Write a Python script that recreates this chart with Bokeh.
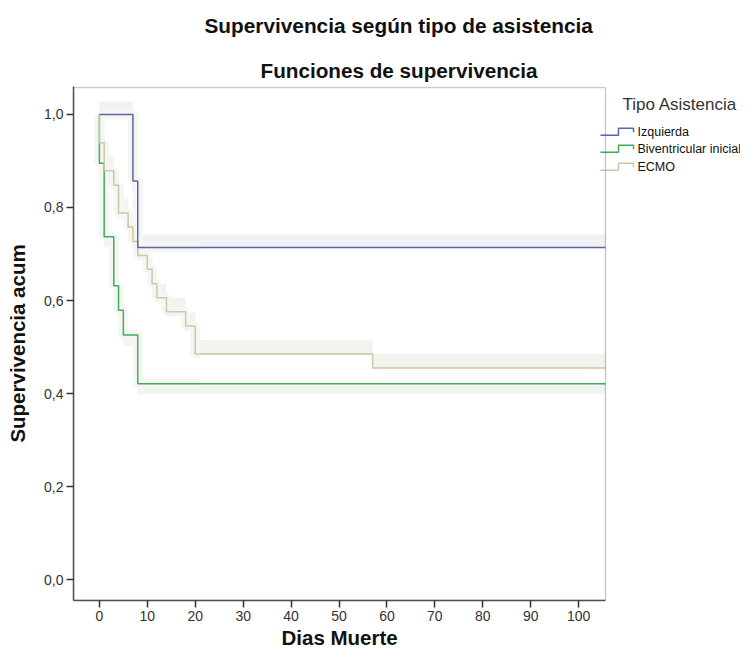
from bokeh.plotting import figure
from bokeh.models import Range1d, FixedTicker, CustomJSTickFormatter, Title, BoxAnnotation
from bokeh.core.properties import value
from bokeh.embed import file_html
from bokeh.resources import INLINE

# ---- data (Kaplan-Meier steps) ----
izq_dias = [0, 7, 8, 105.6]
izq_surv = [1.0, 0.857, 0.714, 0.714]

bi_dias = [0, 0, 1, 3, 4, 5, 8, 105.6]
bi_surv = [1.0, 0.895, 0.737, 0.632, 0.579, 0.526, 0.421, 0.421]

ecmo_dias = [0, 0, 1, 3, 4, 6, 7, 8, 10, 11, 12, 14, 18, 20, 57, 105.6]
ecmo_surv = [1.0, 0.939, 0.879, 0.848, 0.788, 0.758, 0.727, 0.697, 0.667,
             0.636, 0.606, 0.576, 0.545, 0.485, 0.455, 0.455]

grupos = ["Izquierda", "Biventricular inicial", "ECMO"]
x_ticks = [0, 10, 20, 30, 40, 50, 60, 70, 80, 90, 100]
y_ticks = [0.0, 0.2, 0.4, 0.6, 0.8, 1.0]

col_izq = "#5A64AA"
col_bi = "#3FAE58"
col_ecmo = "#CDC8A2"
FONT = "Liberation Sans"

# plot window (data) and its pixel box on the canvas
X0, X1 = -5.4, 105.6
Y0, Y1 = -0.045, 1.058
PL, PR, PT, PB = 73, 605, 85, 600          # frame of the chart area
W, H = 740, 648
sx_per = (PR - PL) / (X1 - X0)
sy_per = (PB - PT) / (Y1 - Y0)
X_END = X1 + (W - PR) / sx_per             # frame extended right for the legend


def X(px):
    return X0 + (px - PL) / sx_per


def Y(py):
    return Y1 - (py - PT) / sy_per


p = figure(width=W, height=H, output_backend="svg", toolbar_location=None,
           x_range=Range1d(X0, X_END), y_range=Range1d(Y0, Y1 + 1.0 / sy_per),
           min_border_left=PL, min_border_right=0, min_border_top=PT - 1,
           min_border_bottom=H - PB)
p.grid.visible = False
p.outline_line_color = None
p.background_fill_color = "white"
p.border_fill_color = "white"

# light bands beside the curves
p.varea_step(x=izq_dias, y1=izq_surv, y2=[v + 0.028 for v in izq_surv],
             step_mode="after", fill_color="#F2F2F4")
p.varea_step(x=ecmo_dias, y1=ecmo_surv, y2=[v + 0.03 for v in ecmo_surv],
             step_mode="after", fill_color="#F3F3EE")
p.varea_step(x=bi_dias, y1=bi_surv, y2=[v - 0.022 for v in bi_surv],
             step_mode="after", fill_color="#F0F5F1")


def early(xs, ys, lim=21):
    k = [i for i, x in enumerate(xs) if x <= lim]
    return [xs[i] for i in k] + [lim], [ys[i] for i in k] + [ys[k[-1]]]


for xs, ys in [(bi_dias, bi_surv), (ecmo_dias, ecmo_surv), (izq_dias, izq_surv)]:
    ex, ey = early(xs, ys)
    p.step(ex, ey, mode="after", line_color="#F5F5F3", line_width=10)

p.step(bi_dias, bi_surv, mode="after", line_color=col_bi, line_width=1.5)
p.step(ecmo_dias, ecmo_surv, mode="after", line_color=col_ecmo, line_width=1.5)
p.step(izq_dias, izq_surv, mode="after", line_color=col_izq, line_width=1.5)

# chart border
p.add_layout(BoxAnnotation(left=X0, right=X1, bottom=Y0, top=Y1, fill_alpha=0,
                           line_color="#505050", line_width=1.5))

# axes
for ax in (p.xaxis[0], p.yaxis[0]):
    ax.axis_line_color = "#505050"
    ax.axis_line_width = 1.5
    ax.major_tick_line_color = "#333333"
    ax.major_tick_line_width = 1.5
    ax.major_tick_out = 7
    ax.major_tick_in = 0
    ax.minor_tick_line_color = None
    ax.major_label_text_font = FONT
    ax.major_label_text_font_size = "14px"
    ax.major_label_text_color = "#333333"
    ax.major_label_standoff = 3

p.xaxis.bounds = (X0, X1)
p.xaxis.ticker = FixedTicker(ticks=x_ticks)
p.yaxis.ticker = FixedTicker(ticks=y_ticks)
p.yaxis.formatter = CustomJSTickFormatter(code="return tick.toFixed(1).replace('.', ',');")
p.yaxis.axis_label = "Supervivencia acum"
p.yaxis.axis_label_text_font = FONT
p.yaxis.axis_label_text_font_style = "bold"
p.yaxis.axis_label_text_font_size = "20.5px"
p.yaxis.axis_label_text_color = "#111111"
p.yaxis.axis_label_text_line_height = 1.0
p.yaxis.axis_label_standoff = 12

# x axis title under the axis
p.add_layout(Title(text="Dias Muerte", align="left", offset=208, standoff=0,
                   text_font=FONT, text_font_style="bold",
                   text_font_size="20.5px", text_color="#111111"), "below")

# titles (first added sits closest to the frame)
p.add_layout(Title(text="Funciones de supervivencia", align="left", offset=187,
                   standoff=9, text_font=FONT, text_font_style="bold",
                   text_font_size="20.7px", text_color="#111111"), "above")
p.add_layout(Title(text="Supervivencia según tipo de asistencia", align="left", offset=131,
                   standoff=27, vertical_align="top", text_font=FONT,
                   text_font_style="bold", text_font_size="20.8px",
                   text_color="#111111"), "above")

# legend drawn in the free area right of the chart
p.text(x=[X(622)], y=[Y(102)], text=["Tipo Asistencia"], text_font=value(FONT),
       text_font_size=value("17px"), text_color="#333333",
       text_align="left", text_baseline="middle")
for name, col, sy in zip(grupos, [col_izq, col_bi, col_ecmo], [130, 147, 165]):
    p.line(x=[X(600), X(618), X(618), X(633), X(633)],
           y=[Y(sy + 3), Y(sy + 3), Y(sy - 4), Y(sy - 4), Y(sy)],
           line_color=col, line_width=1.5)
    p.text(x=[X(637)], y=[Y(sy)], text=[name], text_font=value(FONT),
           text_font_size=value("12.5px"), text_color="#111111",
           text_align="left", text_baseline="middle")

open("out.html", "w").write(file_html(p, INLINE))
